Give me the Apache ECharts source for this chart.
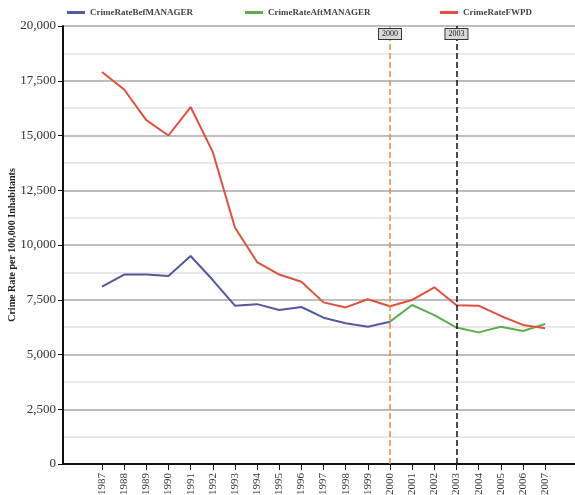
<!DOCTYPE html>
<html>
<head>
<meta charset="utf-8">
<script src="https://cdn.jsdelivr.net/npm/echarts@6/dist/echarts.min.js"></script>
<style>
html,body{margin:0;padding:0;background:#fff;}
#chart{width:575px;height:495px;}
</style>
</head>
<body>
<div id="chart"></div>
<script>
var years = [1987,1988,1989,1990,1991,1992,1993,1994,1995,1996,1997,1998,1999,2000,2001,2002,2003,2004,2005,2006,2007];
var befYears = [1987,1988,1989,1990,1991,1992,1993,1994,1995,1996,1997,1998,1999,2000];
var befValues = [8100,8650,8650,8580,9500,8400,7230,7300,7030,7170,6680,6430,6270,6500];
var aftYears = [2000,2001,2002,2003,2004,2005,2006,2007];
var aftValues = [6500,7260,6800,6230,6010,6270,6070,6390];
var fwpdValues = [17900,17100,15700,15000,16300,14250,10800,9220,8650,8320,7380,7150,7520,7200,7490,8070,7250,7230,6760,6350,6200];
var markYears = [2000,2003];

function pairs(xs, vs){ return xs.map(function(x,i){ return [x, vs[i]]; }); }

var FONT = '"Liberation Serif", "DejaVu Serif", serif';
var chart = echarts.init(document.getElementById('chart'));
var markLabel = {
  show: true, position: 'end', distance: -13,
  formatter: function(p){ return String(p.value); },
  fontFamily: FONT, fontSize: 8, color: '#222',
  backgroundColor: '#d8d8d8', borderColor: '#333', borderWidth: 1, padding: [1,3]
};
function legendItem(left, name){
  return {left: left, top: 3, itemWidth: 18, itemHeight: 3, itemGap: 0, icon: 'rect', data: [name],
    textStyle: {fontFamily: FONT, fontSize: 9, color: '#444', fontWeight: 'bold'}};
}
chart.setOption({
  animation: false,
  textStyle: {fontFamily: FONT},
  legend: [
    legendItem(62, 'CrimeRateBefMANAGER'),
    legendItem(240, 'CrimeRateAftMANAGER'),
    legendItem(435, 'CrimeRateFWPD')
  ],
  grid: {left: 63, right: 0, top: 26, bottom: 31, containLabel: false, outerBoundsMode: 'none'},
  xAxis: {
    type: 'value', min: 1985.24, max: 2008.35,
    splitLine: {show: false},
    axisLine: {show: true, onZero: false, lineStyle: {color: '#111', width: 2}},
    axisTick: {show: true, customValues: years, length: 6, lineStyle: {color: '#111', width: 1}},
    axisLabel: {customValues: years, rotate: 90, fontFamily: FONT, fontSize: 11, color: '#333', margin: 9,
      formatter: function(v){ return String(Math.round(v)); }}
  },
  yAxis: {
    type: 'value', min: 0, max: 20000, interval: 2500,
    name: 'Crime Rate per 100,000 Inhabitants', nameLocation: 'middle', nameGap: 46, nameMoveOverlap: false,
    nameTextStyle: {fontFamily: FONT, fontSize: 10, fontWeight: 'bold', color: '#222'},
    axisLine: {show: true, lineStyle: {color: '#111', width: 2}},
    axisTick: {show: true, length: 5, lineStyle: {color: '#111'}},
    axisLabel: {fontFamily: FONT, fontSize: 13, color: '#333', margin: 7,
      formatter: function(v){ return v.toLocaleString('en-US'); }},
    splitLine: {show: true, lineStyle: {color: '#a8a8a8', width: 1.5}},
    minorTick: {show: false, splitNumber: 2},
    minorSplitLine: {show: true, lineStyle: {color: '#e2e2e2', width: 1.5}}
  },
  series: [
    {name: 'CrimeRateBefMANAGER', type: 'line', data: pairs(befYears, befValues), showSymbol: false, symbol: 'none',
      lineStyle: {color: '#55589c', width: 2}, itemStyle: {color: '#55589c'}, z: 3},
    {name: 'CrimeRateAftMANAGER', type: 'line', data: pairs(aftYears, aftValues), showSymbol: false, symbol: 'none',
      lineStyle: {color: '#5aae4e', width: 2}, itemStyle: {color: '#5aae4e'}, z: 3,
      markLine: {symbol: 'none', silent: true, animation: false,
        data: [
          {xAxis: markYears[0], lineStyle: {color: '#f08a3c', type: 'dashed', width: 1.5}, label: markLabel},
          {xAxis: markYears[1], lineStyle: {color: '#111', type: 'dashed', width: 1.5}, label: markLabel}
        ]}},
    {name: 'CrimeRateFWPD', type: 'line', data: pairs(years, fwpdValues), showSymbol: false, symbol: 'none',
      lineStyle: {color: '#e0503c', width: 2}, itemStyle: {color: '#e0503c'}, z: 3}
  ]
});
</script>
</body>
</html>
